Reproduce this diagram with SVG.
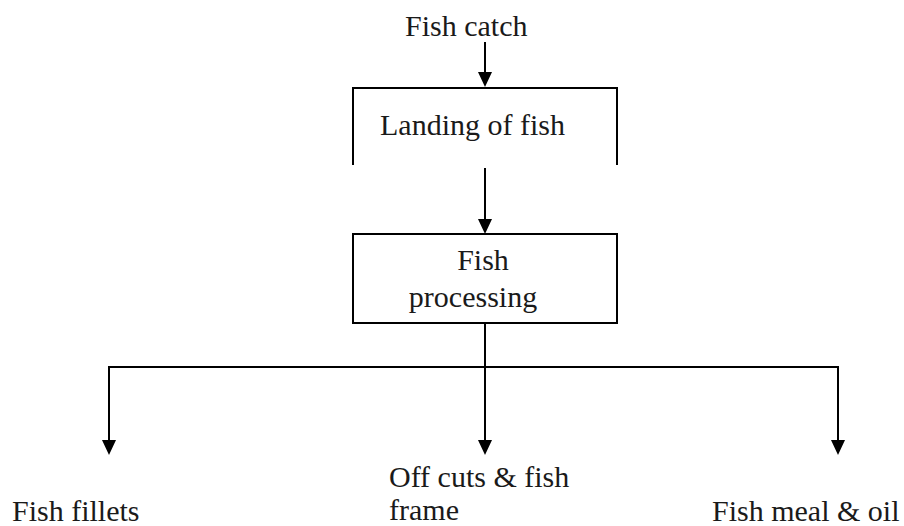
<svg xmlns="http://www.w3.org/2000/svg" width="904" height="526" viewBox="0 0 904 526">
  <style>
    .ln { stroke: #000; stroke-width: 2; fill: none; }
    .lbl { font-size: 30px; fill: #1a1a1a; }
  </style>
  <rect width="904" height="526" fill="#fff"/>

  <g font-family="'Liberation Serif', 'Times New Roman', Times, serif">
    <g id="fish-catch">
      <text class="lbl" x="405" y="36">Fish catch</text>
    </g>

    <g id="landing">
      <path class="ln" d="M353,165 V88 H617 V165"/>
      <text class="lbl" x="380" y="135">Landing of fish</text>
    </g>

    <g id="processing">
      <rect class="ln" x="353" y="234" width="264" height="89"/>
      <text class="lbl" x="483" y="270" text-anchor="middle">Fish</text>
      <text class="lbl" x="473" y="307" text-anchor="middle">processing</text>
    </g>

    <g id="fillets">
      <text class="lbl" x="12" y="521">Fish fillets</text>
    </g>

    <g id="offcuts">
      <text class="lbl" x="389" y="487">Off cuts &amp; fish</text>
      <text class="lbl" x="389" y="520">frame</text>
    </g>

    <g id="meal-oil">
      <text class="lbl" x="712" y="521">Fish meal &amp; oil</text>
    </g>
  </g>

  <g id="connectors">
    <line class="ln" x1="485" y1="42" x2="485" y2="72"/>
    <path d="M478,72 L492,72 L485,87 Z" fill="#000"/>
    <line class="ln" x1="485" y1="168" x2="485" y2="219"/>
    <path d="M478,219 L492,219 L485,234 Z" fill="#000"/>
    <line class="ln" x1="485" y1="323" x2="485" y2="440"/>
    <path class="ln" d="M109,440 V367 H838 V440"/>
    <path d="M102,440 L116,440 L109,455 Z" fill="#000"/>
    <path d="M478,440 L492,440 L485,455 Z" fill="#000"/>
    <path d="M831,440 L845,440 L838,455 Z" fill="#000"/>
  </g>
</svg>
